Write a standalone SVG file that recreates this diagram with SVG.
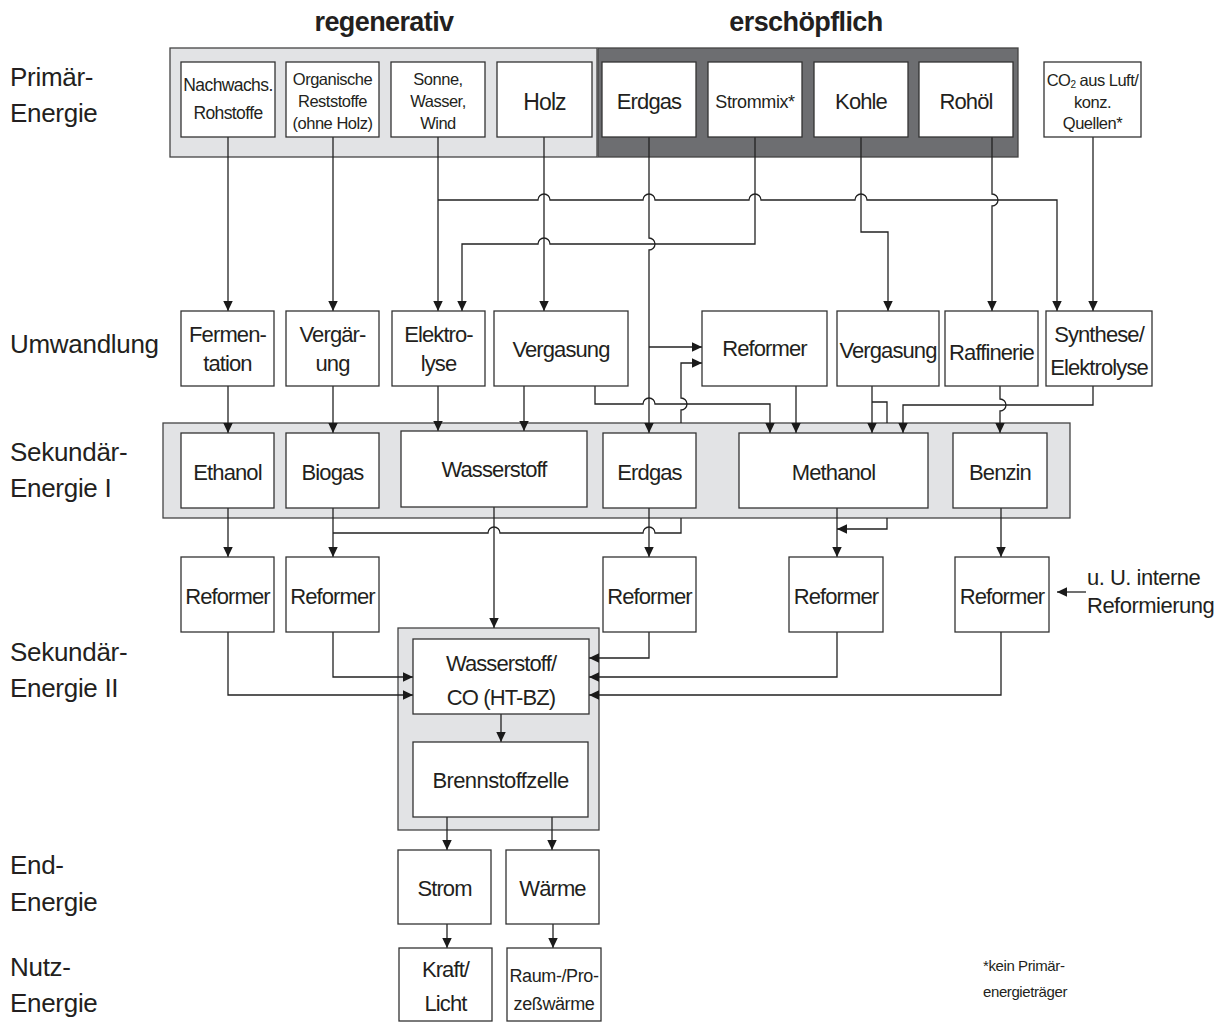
<svg xmlns="http://www.w3.org/2000/svg" width="1225" height="1023" viewBox="0 0 1225 1023">
<defs>
<marker id="ah" markerUnits="userSpaceOnUse" markerWidth="11" markerHeight="10" refX="10" refY="4.75" orient="auto">
<path d="M0,0 L10,4.75 L0,9.5 z" fill="#1a1a1a"/>
</marker>
<style>
.box{fill:#fff;stroke:#333;stroke-width:1.3}
.lg{fill:#e2e3e5;stroke:#444;stroke-width:1.3}
.dg{fill:#6d6e71;stroke:#444;stroke-width:1.3}
text{font-family:"Liberation Sans",Arial,Helvetica,sans-serif;fill:#231f20}
.t{text-anchor:middle}
.f22{font-size:22px;letter-spacing:-0.9px}
.f17{font-size:17.5px;letter-spacing:-0.6px}
.f16{font-size:16.5px;letter-spacing:-0.5px}
.f18{font-size:18px;letter-spacing:-0.4px}
.f15{font-size:15px;letter-spacing:-0.4px}
.lbl{font-size:26px;letter-spacing:-0.3px}
.hdr{font-size:27px;font-weight:bold;letter-spacing:-0.6px;text-anchor:middle}
.c{fill:none;stroke:#222;stroke-width:1.3}
.a{marker-end:url(#ah)}
</style>
</defs>
<rect width="1225" height="1023" fill="#fff"/>

<g id="headers">
<text class="hdr" x="384" y="31">regenerativ</text>
<text class="hdr" x="806" y="31">erschöpflich</text>
</g>

<g id="row-labels">
<text class="lbl" x="10" y="86">Primär-</text>
<text class="lbl" x="10" y="122">Energie</text>
<text class="lbl" x="10" y="353">Umwandlung</text>
<text class="lbl" x="10" y="461">Sekundär-</text>
<text class="lbl" x="10" y="497">Energie I</text>
<text class="lbl" x="10" y="661">Sekundär-</text>
<text class="lbl" x="10" y="697">Energie II</text>
<text class="lbl" x="10" y="874">End-</text>
<text class="lbl" x="10" y="911">Energie</text>
<text class="lbl" x="10" y="976">Nutz-</text>
<text class="lbl" x="10" y="1012">Energie</text>
</g>

<g id="containers">
<rect id="regenerativ" class="lg" x="170" y="48" width="427" height="109"/>
<rect id="erschoepflich" class="dg" x="598" y="48" width="420" height="109"/>
<rect id="sekundaer1" class="lg" x="163" y="423" width="907" height="95"/>
<rect id="sekundaer2" class="lg" x="398" y="628" width="201" height="202"/>
</g>

<g id="connectors">
<path class="c a" d="M228,137 V311"/>
<path class="c a" d="M333,137 V311"/>
<path class="c a" d="M438,137 V311"/>
<path class="c a" d="M438,200 H538 A6,6 0 0 1 550,200 H643 A6,6 0 0 1 655,200 H749 A6,6 0 0 1 761,200 H855 A6,6 0 0 1 867,200 H1057 V311"/>
<path class="c a" d="M544,137 V311"/>
<path class="c a" d="M649,137 V238 A6,6 0 0 1 649,250 V433"/>
<path class="c a" d="M649,347 H702"/>
<path class="c a" d="M755,137 V244 H550 A6,6 0 0 0 538,244 H462 V311"/>
<path class="c a" d="M861,137 V232 H888 V311"/>
<path class="c a" d="M992,137 V194 A6,6 0 0 1 992,206 V311"/>
<path class="c a" d="M1093,137 V311"/>

<path class="c a" d="M228,386 V433"/>
<path class="c a" d="M333,386 V433"/>
<path class="c a" d="M438,386 V431"/>
<path class="c a" d="M524,386 V431"/>
<path class="c a" d="M595,386 V404 H643 A6,6 0 0 1 655,404 H770 V433"/>
<path class="c a" d="M681,423 V410 A6,6 0 0 0 681,398 V363 H702"/>
<path class="c a" d="M796,386 V433"/>
<path class="c a" d="M872,386 V433"/>
<path class="c" d="M872,402 H887 V423"/>
<path class="c a" d="M887,518 V529 H837"/>
<path class="c a" d="M1000,386 V399 A6,6 0 0 1 1000,411 V433"/>
<path class="c a" d="M1093,386 V405 H903 V433"/>

<path class="c a" d="M228,508 V557"/>
<path class="c a" d="M333,508 V557"/>
<path class="c" d="M333,533 H488 A6,6 0 0 1 500,533 H643 A6,6 0 0 1 655,533 H681 V518"/>
<path class="c a" d="M494,507 V628"/>
<path class="c a" d="M649,508 V557"/>
<path class="c a" d="M837,508 V557"/>
<path class="c a" d="M1001,508 V557"/>
<path class="c a" d="M1086,592 H1057"/>

<path class="c a" d="M228,632 V695 H413"/>
<path class="c a" d="M333,632 V677 H413"/>
<path class="c a" d="M649,632 V658 H589"/>
<path class="c a" d="M837,632 V677 H589"/>
<path class="c a" d="M1001,632 V695 H589"/>
<path class="c a" d="M501,714 V742"/>
<path class="c a" d="M447,817 V850"/>
<path class="c a" d="M552,817 V850"/>
<path class="c a" d="M447,924 V948"/>
<path class="c a" d="M553,924 V948"/>
</g>

<g id="n-nachwachs"><rect class="box" x="181" y="62" width="94" height="75"/>
<text class="t f17" x="228" y="91">Nachwachs.</text><text class="t f17" x="228" y="119">Rohstoffe</text></g>
<g id="n-organische"><rect class="box" x="286" y="62" width="93" height="75"/>
<text class="t f16" x="332.5" y="85">Organische</text><text class="t f16" x="332.5" y="107">Reststoffe</text><text class="t f16" x="332.5" y="129">(ohne Holz)</text></g>
<g id="n-sonne"><rect class="box" x="391" y="62" width="94" height="75"/>
<text class="t f16" x="438" y="85">Sonne,</text><text class="t f16" x="438" y="107">Wasser,</text><text class="t f16" x="438" y="129">Wind</text></g>
<g id="n-holz"><rect class="box" x="497" y="62" width="95" height="75"/>
<text class="t f22" x="544.5" y="110" style="font-size:23px">Holz</text></g>
<g id="n-erdgas1"><rect class="box" x="602" y="62" width="94" height="75"/>
<text class="t f22" x="649" y="109">Erdgas</text></g>
<g id="n-strommix"><rect class="box" x="708" y="62" width="94" height="75"/>
<text class="t f18" x="755" y="108">Strommix*</text></g>
<g id="n-kohle"><rect class="box" x="814" y="62" width="94" height="75"/>
<text class="t f22" x="861" y="109">Kohle</text></g>
<g id="n-rohoel"><rect class="box" x="919" y="62" width="94" height="75"/>
<text class="t f22" x="966" y="109">Rohöl</text></g>
<g id="n-co2"><rect class="box" x="1044" y="62" width="97" height="75"/>
<text class="t f16" x="1092.5" y="86">CO<tspan font-size="10" dy="2">2</tspan><tspan dy="-2"> aus Luft/</tspan></text><text class="t f16" x="1092.5" y="108">konz.</text><text class="t f16" x="1092.5" y="129">Quellen*</text></g>

<g id="n-fermentation"><rect class="box" x="181" y="311" width="93" height="75"/>
<text class="t f22" x="227.5" y="342">Fermen-</text><text class="t f22" x="227.5" y="371">tation</text></g>
<g id="n-vergaerung"><rect class="box" x="286" y="311" width="93" height="75"/>
<text class="t f22" x="332.5" y="342">Vergär-</text><text class="t f22" x="332.5" y="371">ung</text></g>
<g id="n-elektrolyse"><rect class="box" x="392" y="311" width="93" height="75"/>
<text class="t f22" x="438.5" y="342">Elektro-</text><text class="t f22" x="438.5" y="371">lyse</text></g>
<g id="n-vergasung1"><rect class="box" x="494" y="311" width="134" height="75"/>
<text class="t f22" x="561" y="357">Vergasung</text></g>
<g id="n-reformer0"><rect class="box" x="702" y="311" width="125" height="75"/>
<text class="t f22" x="764.5" y="356">Reformer</text></g>
<g id="n-vergasung2"><rect class="box" x="837" y="311" width="102" height="75"/>
<text class="t f22" x="888" y="358">Vergasung</text></g>
<g id="n-raffinerie"><rect class="box" x="945" y="311" width="93" height="75"/>
<text class="t f22" x="991.5" y="360">Raffinerie</text></g>
<g id="n-synthese"><rect class="box" x="1046" y="311" width="106" height="75"/>
<text class="t f22" x="1099" y="342">Synthese/</text><text class="t f22" x="1099" y="375">Elektrolyse</text></g>

<g id="n-ethanol"><rect class="box" x="181" y="433" width="93" height="75"/>
<text class="t f22" x="227.5" y="480">Ethanol</text></g>
<g id="n-biogas"><rect class="box" x="286" y="433" width="93" height="75"/>
<text class="t f22" x="332.5" y="480">Biogas</text></g>
<g id="n-wasserstoff"><rect class="box" x="401" y="431" width="186" height="76"/>
<text class="t f22" x="494" y="477">Wasserstoff</text></g>
<g id="n-erdgas2"><rect class="box" x="603" y="433" width="93" height="75"/>
<text class="t f22" x="649.5" y="480">Erdgas</text></g>
<g id="n-methanol"><rect class="box" x="739" y="433" width="189" height="75"/>
<text class="t f22" x="833.5" y="480">Methanol</text></g>
<g id="n-benzin"><rect class="box" x="953" y="433" width="94" height="75"/>
<text class="t f22" x="1000" y="480">Benzin</text></g>

<g id="n-reformer1"><rect class="box" x="181" y="557" width="93" height="75"/>
<text class="t f22" x="227.5" y="604">Reformer</text></g>
<g id="n-reformer2"><rect class="box" x="286" y="557" width="93" height="75"/>
<text class="t f22" x="332.5" y="604">Reformer</text></g>
<g id="n-reformer3"><rect class="box" x="603" y="557" width="93" height="75"/>
<text class="t f22" x="649.5" y="604">Reformer</text></g>
<g id="n-reformer4"><rect class="box" x="789" y="557" width="94" height="75"/>
<text class="t f22" x="836" y="604">Reformer</text></g>
<g id="n-reformer5"><rect class="box" x="955" y="557" width="94" height="75"/>
<text class="t f22" x="1002" y="604">Reformer</text></g>
<g id="n-interne"><text class="f22" style="letter-spacing:-0.5px" x="1087" y="585">u. U. interne</text>
<text class="f22" style="letter-spacing:-0.5px" x="1087" y="613">Reformierung</text></g>

<g id="n-wsco"><rect class="box" x="413" y="639" width="176" height="75"/>
<text class="t f22" x="501" y="671">Wasserstoff/</text><text class="t f22" x="501" y="705">CO (HT-BZ)</text></g>
<g id="n-bz"><rect class="box" x="413" y="742" width="175" height="75"/>
<text class="t f22" style="letter-spacing:-0.6px" x="500.5" y="788">Brennstoffzelle</text></g>

<g id="n-strom"><rect class="box" x="398" y="850" width="93" height="74"/>
<text class="t f22" x="444.5" y="896">Strom</text></g>
<g id="n-waerme"><rect class="box" x="506" y="850" width="93" height="74"/>
<text class="t f22" x="552.5" y="896">Wärme</text></g>
<g id="n-kraft"><rect class="box" x="399" y="948" width="93" height="73"/>
<text class="t f22" x="445.5" y="977">Kraft/</text><text class="t f22" x="445.5" y="1011">Licht</text></g>
<g id="n-raum"><rect class="box" x="507" y="948" width="94" height="73"/>
<text class="t f18" x="554" y="982">Raum-/Pro-</text><text class="t f18" x="554" y="1010">zeßwärme</text></g>

<g id="footnote"><text class="f15" x="983" y="971">*kein Primär-</text>
<text class="f15" x="983" y="997">energieträger</text></g>
</svg>
